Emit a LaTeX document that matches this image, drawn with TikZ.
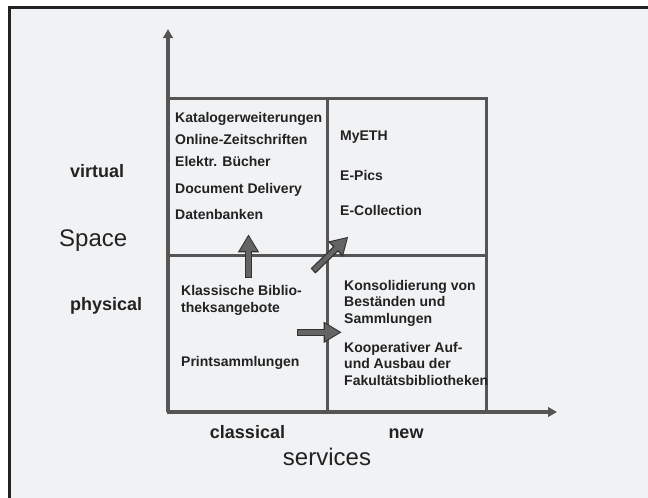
\documentclass[tikz,border=0pt]{standalone}
\usepackage{fontspec}
\setmainfont{Liberation Sans}
\usetikzlibrary{arrows.meta,positioning}

\definecolor{paper}{RGB}{241,242,244}
\definecolor{linegray}{RGB}{85,85,85}
\definecolor{arrowfill}{RGB}{100,100,100}
\definecolor{arrowedge}{RGB}{50,50,50}
\definecolor{ink}{RGB}{34,34,34}

\begin{document}
\begin{tikzpicture}[x=1pt,y=-1pt,node distance=0pt,text=ink]
  \tikzstyle{cell}=[draw=linegray, line width=3pt, minimum width=159pt,
                    minimum height=157pt, inner sep=0, outer sep=0]
  \tikzstyle{axisline}=[draw=linegray, line width=3.5pt,
                        -{Triangle[width=9.5pt,length=9pt]}]
  \tikzstyle{entry}=[anchor=base west, inner sep=0,
                     font=\fontsize{14}{16.5}\selectfont\bfseries]
  \tikzstyle{axisvalue}=[anchor=base west, inner sep=0,
                         font=\fontsize{18}{20}\selectfont\bfseries]
  \tikzstyle{axislabel}=[anchor=base, inner sep=0,
                         font=\fontsize{24}{28}\selectfont]
  \tikzstyle{blockarrow}=[draw=arrowfill, line width=4.5pt,
                          shorten >=2pt, shorten <=1.2pt,
                          -{Triangle[width=16pt,length=14.5pt]},
                          preaction={draw=arrowedge, line width=7pt,
                                     shorten >=0pt, shorten <=0pt,
                                     -{Triangle[width=20pt,length=18pt]}}]

  \useasboundingbox (0,0) rectangle (648,498);
  \fill[white] (0,0) rectangle (648,498);
  \fill[paper] (9.5,7) rectangle (648,498);
  \draw[ink, line width=3pt] (9.5,498) |- (648,7);

  % the four quadrants
  \node[cell] (pc) at (247.5,333.5) {};
  \node[cell] (pn) [right=of pc] {};
  \node[cell] (vc) [above=of pc] {};
  \node[cell] (vn) [above=of pn] {};

  % axes
  \coordinate (ytip) at (168,29);
  \coordinate (xtip) at (557,412);
  \draw[axisline] (pc.south west) -- (ytip);
  \draw[axisline] (pc.south west) -- (xtip);

  % virtual / classical
  \node[entry] (katalog)     at (175,122.7) {Katalogerweiterungen};
  \node[entry] (online)      at (175,144)   {Online-Zeitschriften};
  \node[entry] (elektr)      at (175,166)   {Elektr. Bücher};
  \node[entry] (docdel)      at (175,193)   {Document Delivery};
  \node[entry] (datenbanken) at (175,219)   {Datenbanken};

  % virtual / new
  \node[entry] (myeth) at (340,140) {MyETH};
  \node[entry] (epics) at (340,180) {E-Pics};
  \node[entry] (ecoll) at (340,215) {E-Collection};

  % physical / classical
  \node[entry] (klassischA) at (181,295)   {Klassische Biblio-};
  \node[entry] (klassischB) at (181,312.7) {theksangebote};
  \node[entry] (print)      at (181,366)   {Printsammlungen};

  % physical / new
  \node[entry] (konsolA) at (344,290)   {Konsolidierung von};
  \node[entry] (konsolB) at (344,306.7) {Beständen und};
  \node[entry] (konsolC) at (344,323)   {Sammlungen};
  \node[entry] (koopA)   at (344,352)   {Kooperativer Auf-};
  \node[entry] (koopB)   at (344,368.5) {und Ausbau der};
  \node[entry] (koopC)   at (344,385)   {Fakultätsbibliotheken};

  % axis labels
  \node[axisvalue] (virtual)  at (70,177)   {virtual};
  \node[axisvalue] (physical) at (70,310.5) {physical};
  \node[axislabel, anchor=base west] (space) at (59,246) {Space};
  \node[axisvalue, anchor=base] (classical) at (247.5,438) {classical};
  \node[axisvalue, anchor=base] (new)       at (406,438)   {new};
  \node[axislabel] (services) at (327,465) {services};

  % moves between the quadrants
  \coordinate (upfrom)    at (248.5,278);
  \coordinate (upto)      at (248.5,234.3);
  \coordinate (diagfrom)  at (313,271);
  \coordinate (diagto)    at (348.3,236.7);
  \coordinate (rightfrom) at (297,332.3);
  \coordinate (rightto)   at (341.7,332.3);
  \draw[blockarrow] (upfrom) -- (upto);
  \draw[blockarrow] (diagfrom) -- (diagto);
  \draw[blockarrow] (rightfrom) -- (rightto);
\end{tikzpicture}
\end{document}
